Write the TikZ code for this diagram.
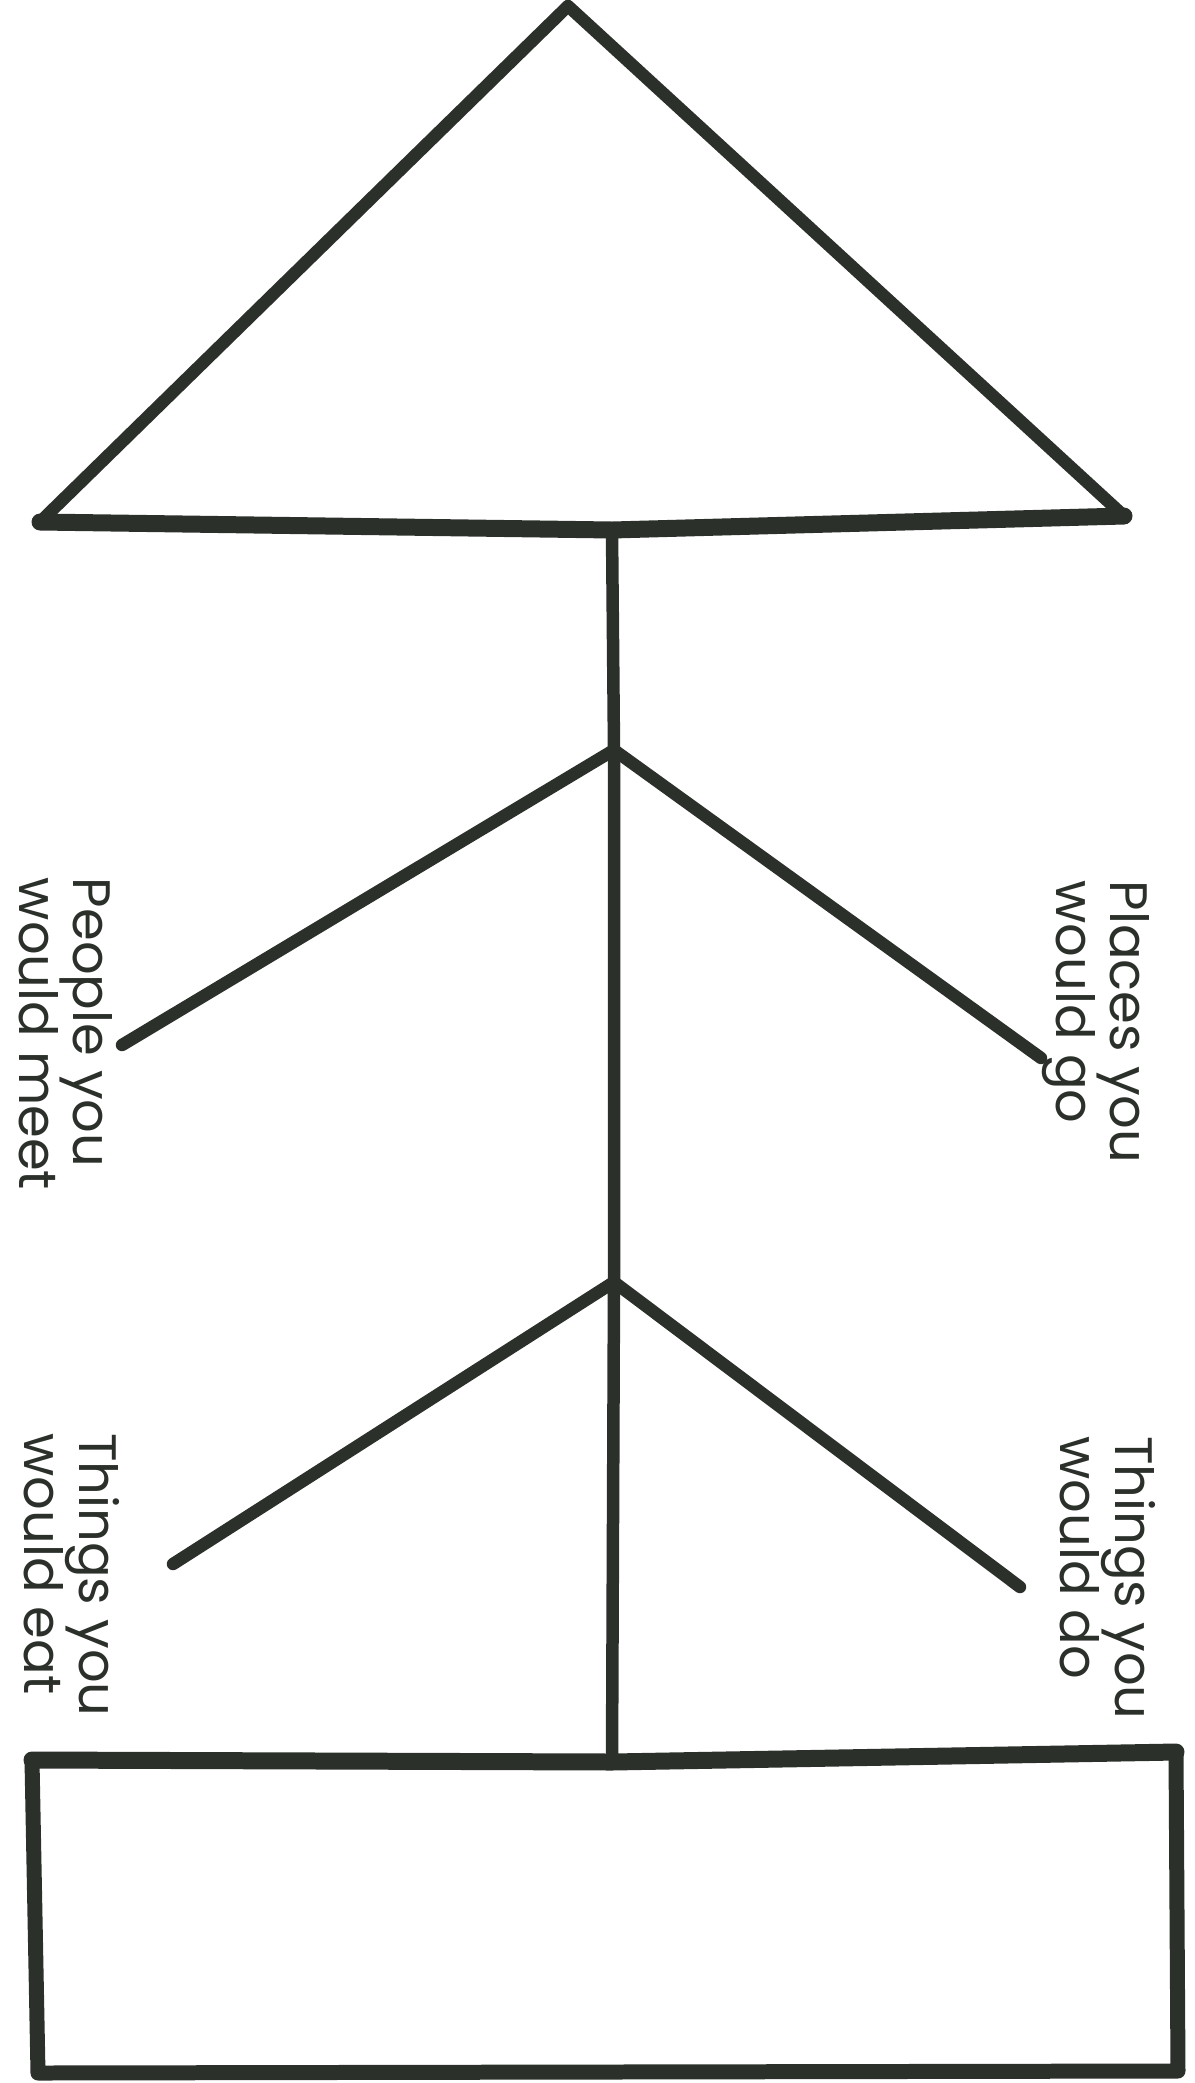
\documentclass[tikz,border=0pt]{standalone}
\usepackage{fontspec}
\setmainfont{Poppins}
\usepackage{xcolor}
\definecolor{inkgray}{HTML}{2B302B}

\begin{document}
\begin{tikzpicture}[
  x=0.02cm, y=-0.02cm,
  line join=round, line cap=round,
  pen/.style={draw=inkgray, line width=#1},
  pen/.default=0.25cm,
  lbl/.style={rotate=-90, align=left, text=inkgray, inner sep=0pt,
              font=\fontsize{30}{27}\selectfont},
]
\useasboundingbox (0,0) rectangle (1194,2083);

%% ===== TRIANGLE =====

\coordinate (apex)    at (568,6);
\coordinate (baseL)   at (40,522);
\coordinate (baseR)   at (1124,516);
\coordinate (stemtop) at (612,530);

\draw[pen=0.25cm] (baseL) -- (apex) -- (baseR);
\draw[pen=0.34cm] (baseL) -- (stemtop) -- (baseR);

%% ===== STEM AND BRANCHES =====

\coordinate (jtop)    at (614,750);
\coordinate (jbot)    at (614,1282);
\coordinate (stembot) at (612,1762);

\coordinate (peopleend) at (122,1045);
\coordinate (placesend) at (1041,1058);
\coordinate (eatend)    at (173,1564);
\coordinate (doend)     at (1020,1587);

\draw[pen] (stemtop) -- (jtop) -- (jbot) -- (stembot);
\draw[pen] (peopleend) -- (jtop) -- (placesend);
\draw[pen] (eatend) -- (jbot) -- (doend);

%% ===== BOX =====

\coordinate (boxNW) at (32,1760);
\coordinate (boxNE) at (1176,1752);
\coordinate (boxSE) at (1178,2071);
\coordinate (boxSW) at (38,2073);

\draw[pen=0.34cm] (boxNW) -- (stembot) -- (boxNE);
\draw[pen=0.3cm]  (boxNE) -- (boxSE) -- (boxSW) -- (boxNW);

%% ===== LABELS =====

\node[lbl] (places) at (1096,1022) {Places you\\would go};
\node[lbl] (people) at (66,1034)   {People you\\would meet};
\node[lbl] (eat)    at (72,1575)   {Things you\\would eat};
\node[lbl] (do)     at (1108,1578) {Things you\\would do};

\end{tikzpicture}
\end{document}
